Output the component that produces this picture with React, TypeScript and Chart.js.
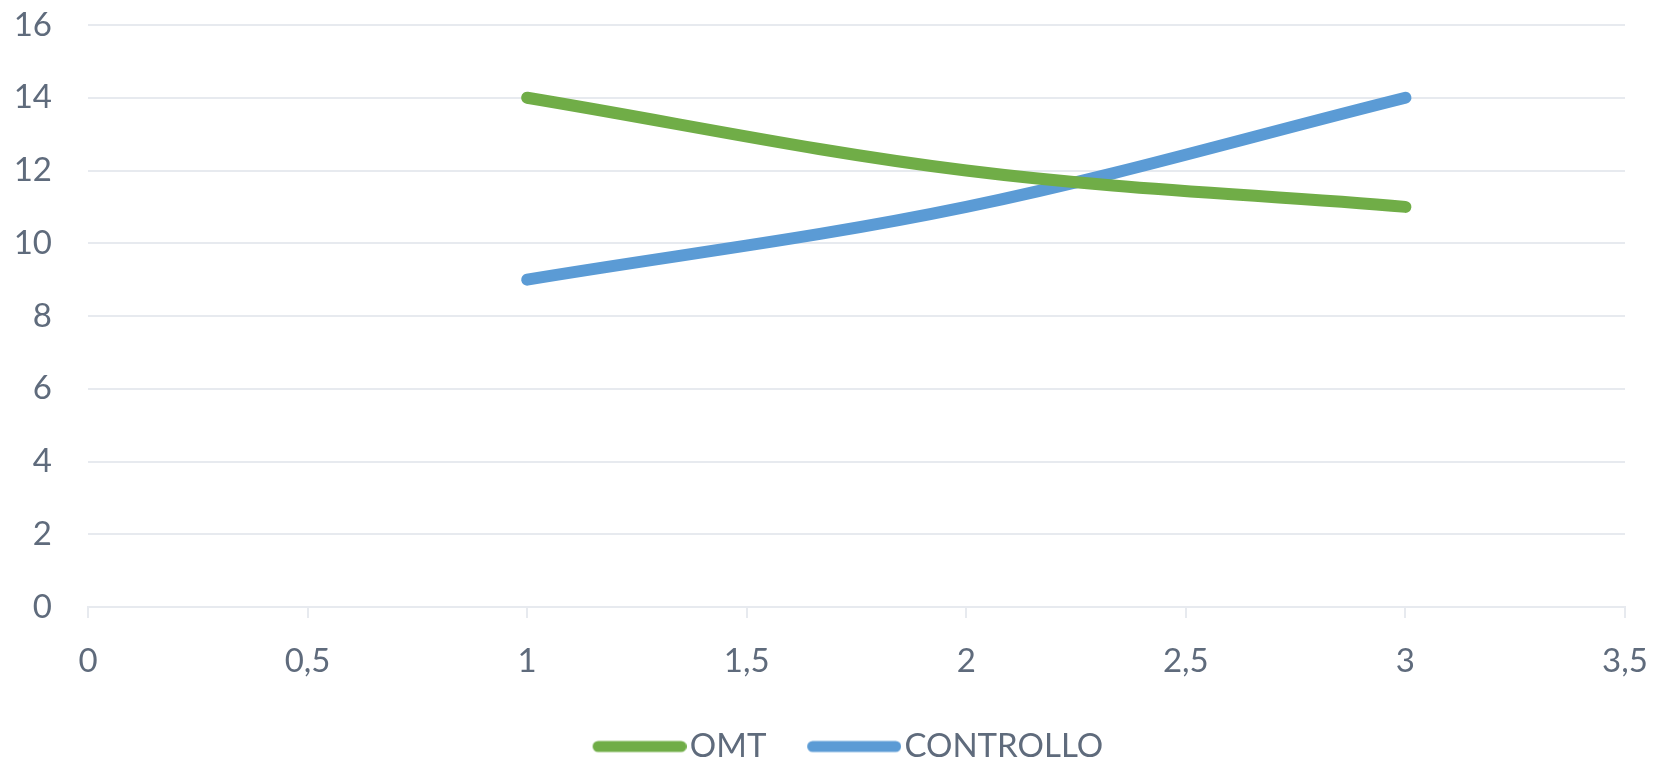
import React, { useEffect, useRef } from "react";
import { Chart, registerables } from "chart.js";

Chart.register(...registerables);

const xValues = [1, 2, 3];
const omtValues = [14, 12, 11];
const controlloValues = [9, 11, 14];
const seriesNames = ["OMT", "CONTROLLO"];
const seriesColors = ["#70AD47", "#5B9BD5"];
const xTickValues = [0, 0.5, 1, 1.5, 2, 2.5, 3, 3.5];

const gridColor = "#E7EAEF";
const tickColor = "#5F6B7C";
const fontFamily = "Lato, 'Noto Sans', sans-serif";

// legend glyph: a thick rounded line, drawn at the right end of the icon box
const ICON_BOX = 101.5;
function legendLine(color: string) {
  const c = document.createElement("canvas");
  c.width = 128;
  c.height = 14;
  const g = c.getContext("2d")!;
  g.strokeStyle = color;
  g.lineWidth = 11;
  g.lineCap = "round";
  g.beginPath();
  g.moveTo(128 - 94 + 5.5, 7);
  g.lineTo(128 - 5.5, 7);
  g.stroke();
  return c;
}

const legendShift = {
  id: "legendShift",
  afterLayout(chart: any) {
    const lg = chart.legend;
    if (lg) {
      lg.left += 25;
      lg.right += 25;
    }
  },
};

export default function App() {
  const ref = useRef<HTMLCanvasElement | null>(null);

  useEffect(() => {
    document.body.style.margin = "0";
    const ctx = ref.current;
    if (!ctx) return;
    const icons = seriesColors.map(legendLine);
    const toPts = (ys: number[]) => xValues.map((x, i) => ({ x, y: ys[i] }));
    const mkSet = (i: number, ys: number[]) => ({
      label: seriesNames[i],
      data: toPts(ys),
      borderColor: seriesColors[i],
      backgroundColor: seriesColors[i],
      borderWidth: 12,
      borderCapStyle: "round",
      pointRadius: 0,
      tension: 0.35,
      fill: false,
    });
    const chart = new Chart(ctx, {
      type: "line",
      data: {
        datasets: [mkSet(0, omtValues), mkSet(1, controlloValues)],
      },
      plugins: [legendShift],
      options: {
        animation: false,
        responsive: false,
        maintainAspectRatio: false,
        layout: { padding: { top: 25, right: 38, left: 0, bottom: -9 } },
        scales: {
          x: {
            type: "linear",
            min: xTickValues[0],
            max: xTickValues[xTickValues.length - 1],
            ticks: {
              stepSize: 0.5,
              padding: 24,
              color: tickColor,
              font: { family: fontFamily, size: 33 },
              callback: (v: any) => String(v).replace(".", ","),
            },
            grid: {
              drawOnChartArea: false,
              drawTicks: true,
              tickLength: 11,
              color: gridColor,
              lineWidth: 2,
            },
            border: { display: true, color: gridColor, width: 2 },
            afterFit: (axis: any) => {
              axis.height = 103;
              axis.paddingLeft = 0;
              axis.paddingRight = 0;
            },
          },
          y: {
            min: 0,
            max: 16,
            ticks: {
              stepSize: 2,
              padding: 36,
              color: tickColor,
              font: { family: fontFamily, size: 33 },
            },
            grid: { drawTicks: false, color: gridColor, lineWidth: 2 },
            border: { display: false },
            afterFit: (axis: any) => {
              axis.width = 88;
              axis.paddingTop = 0;
              axis.paddingBottom = 0;
            },
          },
        },
        plugins: {
          tooltip: { enabled: false },
          legend: {
            position: "bottom",
            labels: {
              usePointStyle: true,
              pointStyleWidth: ICON_BOX,
              padding: 20,
              color: tickColor,
              font: { family: fontFamily, size: 33 },
              generateLabels: (c: any) =>
                Chart.defaults.plugins.legend.labels
                  .generateLabels(c)
                  .map((l: any, i: number) => ({ ...l, lineWidth: 0, pointStyle: icons[i] })),
            },
          },
        },
      } as any,
    });
    return () => chart.destroy();
  }, []);

  return (
    <div style={{ width: 1663, height: 764 }}>
      <canvas ref={ref} width={1663} height={764} style={{ width: 1663, height: 764, display: "block" }} />
    </div>
  );
}
